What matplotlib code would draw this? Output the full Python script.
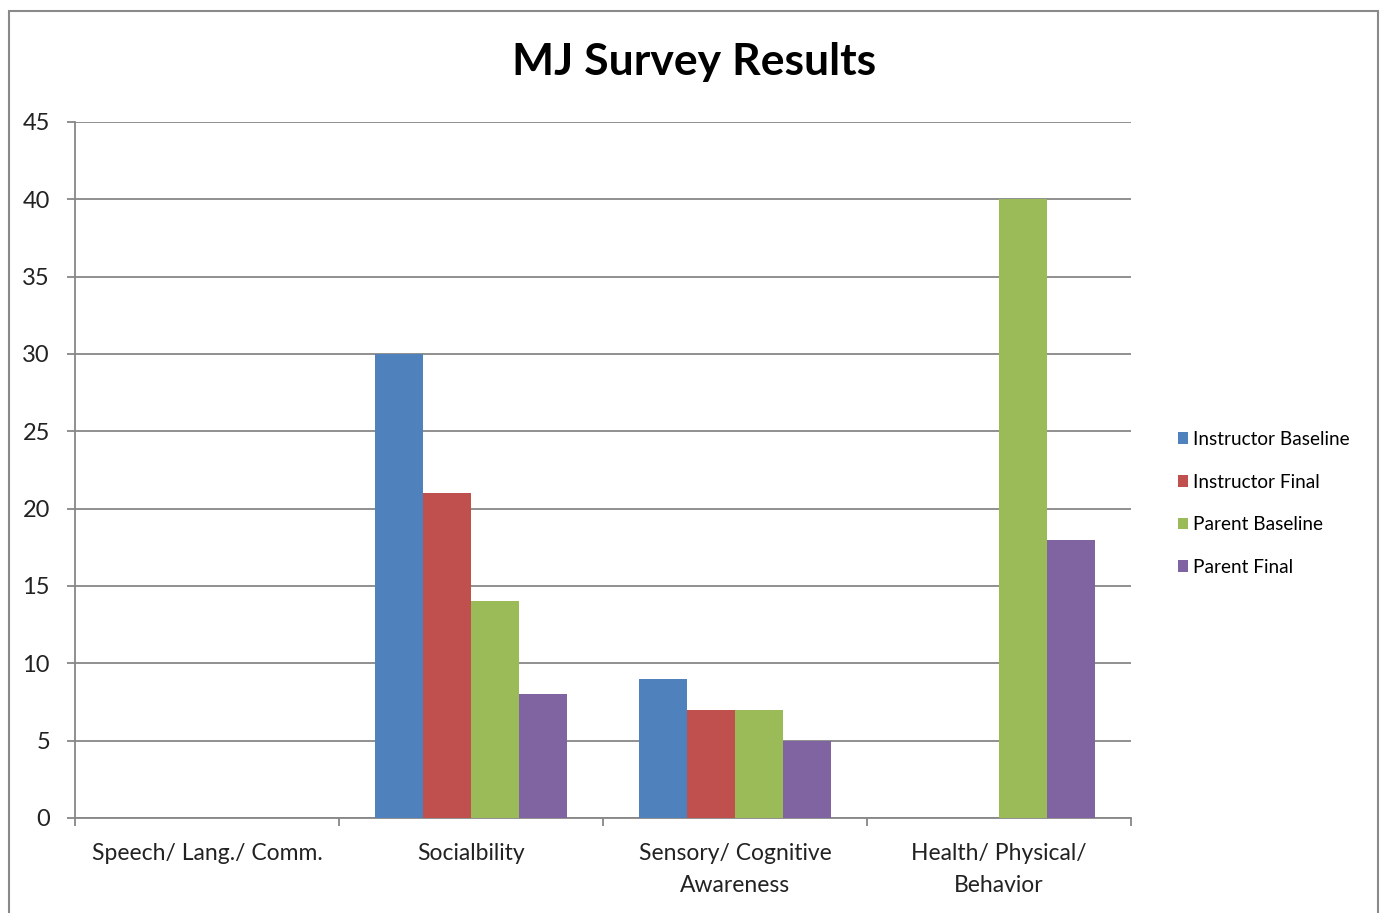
import matplotlib.pyplot as plt
from matplotlib.patches import Rectangle
import numpy as np

categories = ["Speech/ Lang./ Comm.", "Socialbility",
              "Sensory/ Cognitive\nAwareness", "Health/ Physical/\nBehavior"]
series = ["Instructor Baseline", "Instructor Final", "Parent Baseline", "Parent Final"]
instructor_baseline = [0, 30, 9, 0]
instructor_final = [0, 21, 7, 0]
parent_baseline = [0, 14, 7, 40]
parent_final = [0, 8, 5, 18]
colors = ["#4F81BD", "#C0504D", "#9BBB59", "#8064A2"]

plt.rcParams['font.family'] = ['Lato', 'DejaVu Sans']

fig = plt.figure(figsize=(13.83, 9.13), dpi=100)
ax = fig.add_axes([0.0542, 0.1041, 0.7636, 0.7623])

x = np.arange(len(categories))
w = 48 / 264
values = [instructor_baseline, instructor_final, parent_baseline, parent_final]
for j, (name, vals) in enumerate(zip(series, values)):
    ax.bar(x + (j - 1.5) * w, vals, width=w, color=colors[j], label=name, zorder=3)

grid = "#878787"
ax.set_xlim(-0.5, 3.5)
ax.set_ylim(0, 45)
ax.set_yticks(range(0, 46, 5))
ax.yaxis.grid(True, color=grid, linewidth=1.3, zorder=0)
ax.set_axisbelow(True)
for s in ["top", "right"]:
    ax.spines[s].set_visible(False)
for s in ["left", "bottom"]:
    ax.spines[s].set_color(grid)
    ax.spines[s].set_linewidth(1.3)

ax.set_xticks(x)
ax.set_xticklabels(categories, fontsize=16.5, color="#222222", linespacing=1.65)
ax.set_xticks(np.arange(-0.5, 4.0, 1.0), minor=True)
ax.tick_params(axis="x", which="major", length=0, pad=18)
ax.tick_params(axis="x", which="minor", length=6, width=1.3, color=grid)
ax.tick_params(axis="y", length=6, width=1.3, color=grid, labelsize=17,
               labelcolor="#222222", pad=12)

fig.text(0.5015, 1 - 62 / 913, "MJ Survey Results", fontsize=32, fontweight="bold",
         ha="center", va="center")

ax.legend(loc="center left", bbox_to_anchor=(1.028, 0.452), frameon=False,
          fontsize=13.7, handlelength=0.55, handleheight=0.55, handletextpad=0.25,
          labelspacing=1.35)

fig.add_artist(Rectangle((9 / 1383, -0.02), 1369 / 1383, 1 - 11 / 913 + 0.02,
                         transform=fig.transFigure, fill=False,
                         edgecolor="#8a8a8a", linewidth=1.5))

fig.savefig("out.png", dpi=100)
